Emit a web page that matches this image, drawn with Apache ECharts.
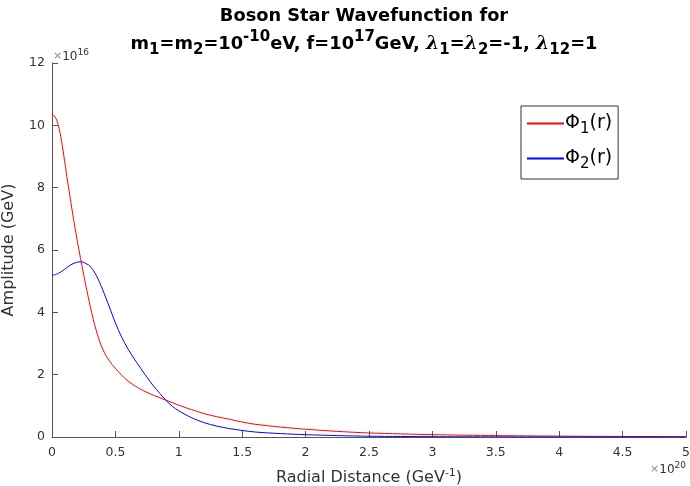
<!DOCTYPE html>
<html><head><meta charset="utf-8">
<script src="https://cdn.jsdelivr.net/npm/echarts@6/dist/echarts.min.js"></script>
<style>html,body{margin:0;padding:0;background:#fff}#c{width:690px;height:486px}</style>
</head><body><div id="c"></div>
<script>
// Radial distance (units of 1e20 GeV^-1)
const xPhi1 = [0,0.0125,0.025,0.0375,0.05,0.0625,0.075,0.0875,0.1,0.125,0.15,0.175,0.2,0.225,0.25,0.275,0.3,0.325,0.35,0.375,0.4,0.425,0.45,0.475,0.5,0.55,0.6,0.7,0.8,0.9,1.0,1.1,1.2,1.3,1.4,1.5,1.6,1.8,2.0,2.25,2.5,3.0,3.5,4.0,4.5,5.0];
// Phi_1 amplitude (units of 1e16 GeV)
const phi1 = [10.35,10.33,10.26,10.16,10.0,9.78,9.5,9.18,8.84,8.15,7.5,6.87,6.28,5.73,5.2,4.7,4.22,3.78,3.4,3.08,2.82,2.62,2.46,2.32,2.2,1.98,1.79,1.53,1.34,1.18,1.02,0.88,0.75,0.65,0.57,0.48,0.41,0.32,0.25,0.18,0.13,0.075,0.045,0.028,0.017,0.01];
const xPhi2 = [0,0.05,0.1,0.15,0.2,0.225,0.25,0.3,0.35,0.4,0.45,0.5,0.55,0.6,0.65,0.7,0.75,0.8,0.85,0.9,0.95,1.0,1.1,1.2,1.3,1.4,1.5,1.6,1.8,2.0,2.25,2.5,3.0,3.5,4.0,5.0];
const phi2 = [5.18,5.25,5.38,5.53,5.61,5.62,5.6,5.48,5.18,4.72,4.2,3.66,3.2,2.82,2.5,2.2,1.91,1.64,1.4,1.17,0.98,0.84,0.62,0.46,0.35,0.27,0.21,0.16,0.11,0.075,0.045,0.025,0.01,0.004,0.002,0.001];
const seriesNames = ['Φ1(r)','Φ2(r)'];
const seriesColors = ['#ff0000','#0000ff'];

const F = 'DejaVu Sans';
const chart = echarts.init(document.getElementById('c'));
const pair = (xs, ys) => xs.map((x,i)=>[x,ys[i]]);
chart.setOption({
  animation:false,
  backgroundColor:'#fff',
  title:{
    text:'{b|Boson Star Wavefunction for}\n{b|m}{s|1}{b|=m}{s|2}{b|=10}{p|-10}{b|eV, f=10}{p|17}{b|GeV, }{l|λ}{s|1}{b|=}{l|λ}{s|2}{b|=-1, }{l|λ}{s|12}{b|=1}',
    left:359, top:-3, textAlign:'center',
    textStyle:{
      rich:{
        b:{fontFamily:F,fontWeight:'bold',fontSize:17.8,color:'#000',lineHeight:28},
        s:{fontFamily:F,fontWeight:'bold',fontSize:15,color:'#000',verticalAlign:'bottom',padding:[11,0,0,0],lineHeight:28},
        p:{fontFamily:F,fontWeight:'bold',fontSize:15,color:'#000',verticalAlign:'top',padding:[0,0,11,0],lineHeight:28},
        l:{fontFamily:'DejaVu Serif',fontStyle:'italic',fontWeight:'bold',fontSize:19,color:'#000',lineHeight:28}
      }
    }
  },
  grid:{left:52,right:4,top:63,bottom:49,containLabel:false,outerBoundsMode:'none'},
  legend:{
    orient:'vertical', left:521, top:106, width:100,
    padding:[5,6,7,6], itemGap:9,
    borderColor:'#333', borderWidth:1, backgroundColor:'#fff',
    itemWidth:37, itemHeight:2, icon:'rect',
    inactiveColor:'#ccc',
    data: seriesNames.map((n,i)=>({name:n,itemStyle:{color:seriesColors[i],borderWidth:0,opacity:1}})),
    formatter: n => n==='Φ1(r)' ? '{a|Φ}{s|1}{a|(r)}' : '{a|Φ}{s|2}{a|(r)}',
    textStyle:{
      padding:[0,0,0,-4],
      rich:{
        a:{fontFamily:F,fontSize:19,color:'#000',lineHeight:27},
        s:{fontFamily:F,fontSize:15,color:'#000',verticalAlign:'bottom',padding:[11,0,0,0],lineHeight:27}
      }
    }
  },
  xAxis:{
    type:'value', min:0, max:5, interval:0.5,
    name:'{a|Radial Distance (GeV}{p|-1}{a|)}', nameLocation:'middle', nameGap:31,
    nameTextStyle:{rich:{a:{fontFamily:F,fontSize:16,color:'#333'},p:{fontFamily:F,fontSize:11,color:'#333',verticalAlign:'top',padding:[0,0,9,0]}}},
    axisLine:{lineStyle:{color:'#555',width:1}},
    axisTick:{inside:true,length:6,lineStyle:{color:'#555'}},
    axisLabel:{fontFamily:F,fontSize:12.5,color:'#333',margin:9,formatter:v=>String(v)},
    splitLine:{show:false}
  },
  yAxis:{
    type:'value', min:0, max:12, interval:2,
    name:'Amplitude (GeV)', nameLocation:'middle', nameGap:35, nameRotate:90,
    nameTextStyle:{fontFamily:F,fontSize:16,color:'#333'},
    axisLine:{show:true,lineStyle:{color:'#555',width:1}},
    axisTick:{show:true,inside:true,length:6,lineStyle:{color:'#555'}},
    axisLabel:{fontFamily:F,fontSize:12.5,color:'#333',margin:7},
    splitLine:{show:false}
  },
  graphic:[
    {type:'text',left:53,top:48,style:{text:'{x|×}{a|10}{p|16}',rich:{x:{fontSize:11,fill:'#888',fontFamily:F},a:{fontSize:12,fill:'#333',fontFamily:F},p:{fontSize:9,fill:'#333',fontFamily:F,verticalAlign:'top',padding:[0,0,8,0]}}}},
    {type:'text',right:4,top:461,style:{text:'{x|×}{a|10}{p|20}',rich:{x:{fontSize:11,fill:'#888',fontFamily:F},a:{fontSize:12,fill:'#333',fontFamily:F},p:{fontSize:9,fill:'#333',fontFamily:F,verticalAlign:'top',padding:[0,0,8,0]}}}}
  ],
  series:[
    {name:seriesNames[0],type:'line',data:pair(xPhi1,phi1),smooth:0.3,symbol:'none',lineStyle:{color:seriesColors[0],width:1},itemStyle:{color:seriesColors[0]}},
    {name:seriesNames[1],type:'line',data:pair(xPhi2,phi2),smooth:0.3,symbol:'none',lineStyle:{color:seriesColors[1],width:1},itemStyle:{color:seriesColors[1]}}
  ]
});
</script></body></html>
